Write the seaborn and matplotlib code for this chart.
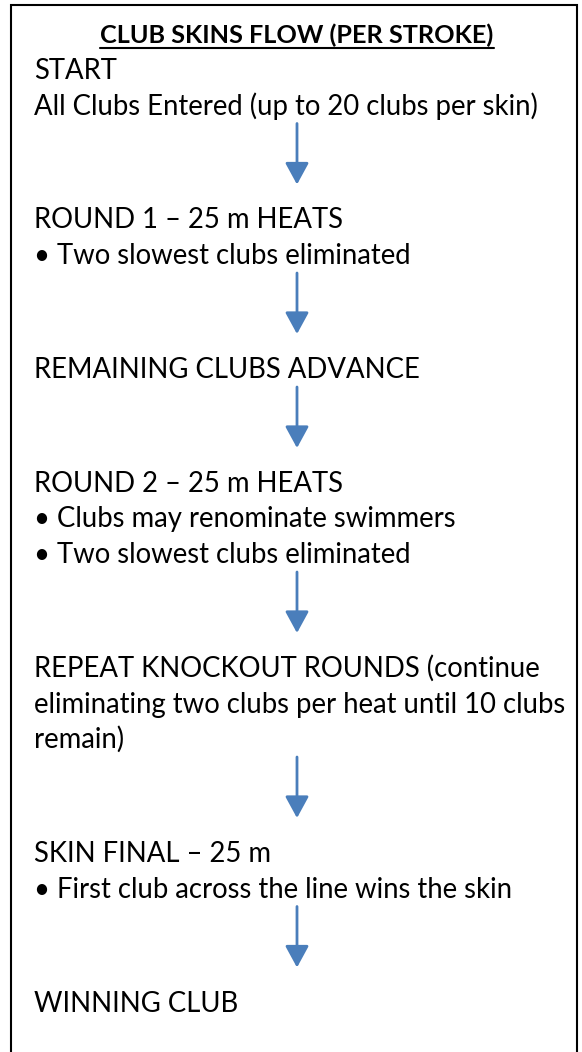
import matplotlib
matplotlib.use("Agg")
from matplotlib import pyplot as plt
import seaborn as sns

# Flow steps: each block is a list of lines, drawn top to bottom
title = "CLUB SKINS FLOW (PER STROKE)"
blocks = [
    ["START", "All Clubs Entered (up to 20 clubs per skin)"],
    ["ROUND 1 \u2013 25 m HEATS", "\u2022 Two slowest clubs eliminated"],
    ["REMAINING CLUBS ADVANCE"],
    ["ROUND 2 \u2013 25 m HEATS", "\u2022 Clubs may renominate swimmers",
     "\u2022 Two slowest clubs eliminated"],
    ["REPEAT KNOCKOUT ROUNDS (continue",
     "eliminating two clubs per heat until 10 clubs", "remain)"],
    ["SKIN FINAL \u2013 25 m", "\u2022 First club across the line wins the skin"],
    ["WINNING CLUB"],
]

sns.set_theme(style="white")
plt.rcParams["font.family"] = ["Lato", "DejaVu Sans"]

W, H = 582, 1052
fig = plt.figure(figsize=(W / 100, H / 100), dpi=100)
ax = fig.add_axes([0, 0, 1, 1])
ax.set_xlim(0, W)
ax.set_ylim(H, 0)
ax.axis("off")

# outer frame (open at the bottom)
ax.plot([11, 11, 577, 577], [H + 5, 5, 5, H + 5], color="black", lw=1.5,
        solid_joinstyle="miter")

fs = 19.8
line_h = 35.5
t = ax.text(297, 43, title, ha="center", va="baseline", fontsize=18.2,
            fontweight="bold", color="black")
fig.canvas.draw()
bb = t.get_window_extent().transformed(ax.transData.inverted())
ax.plot([bb.x0, bb.x1], [48, 48], color="black", lw=1.5)

y = 79
for i, lines in enumerate(blocks):
    for line in lines:
        ax.text(34, y, line, ha="left", va="baseline", fontsize=fs, color="black")
        y += line_h
    last = y - line_h
    if i < len(blocks) - 1:
        ax.annotate("", xy=(297, last + 70), xytext=(297, last + 9),
                    arrowprops=dict(arrowstyle="-|>,head_length=1.1,head_width=0.6",
                                    color="#4a7ebb", lw=2.0, shrinkA=0, shrinkB=0))
        y = last + 114

fig.savefig("out.png", dpi=100)
